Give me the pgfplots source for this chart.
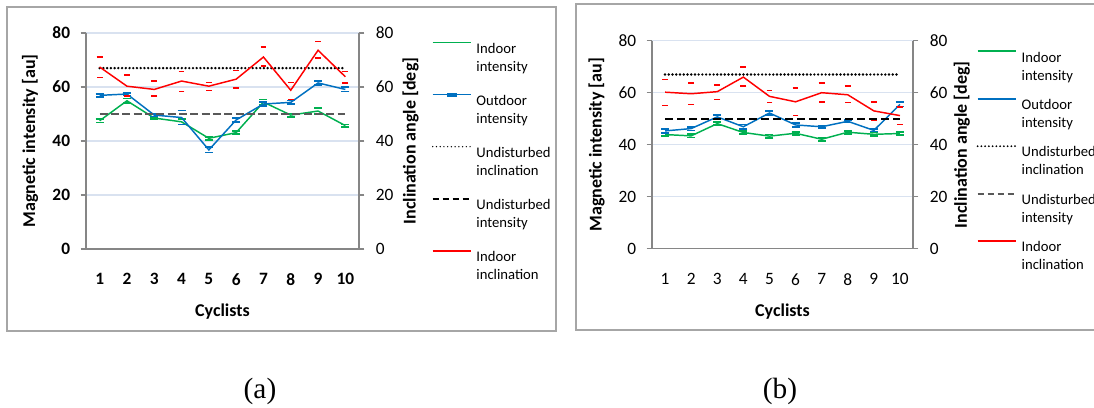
\documentclass[border=0pt]{standalone}
\usepackage{fontspec}
\setmainfont{Carlito}
\newfontfamily\timesfont{Liberation Serif}
\usepackage{pgfplots}
\usepackage{pgfplotstable}
\pgfplotsset{compat=1.18}
\definecolor{exgreen}{RGB}{0,176,80}
\definecolor{exblue}{RGB}{0,112,192}
\definecolor{exred}{RGB}{255,0,0}
\definecolor{gridc}{RGB}{217,226,240}
\definecolor{axc}{RGB}{134,134,134}
\definecolor{framec}{RGB}{166,166,166}
\definecolor{dashc}{RGB}{89,89,89}
\newcommand{\lgd}[2]{\vtop{\hbox{\strut #1}\hbox{\strut #2}}}
\newcommand{\lblfont}{\fontsize{13.5}{16}\selectfont\bfseries}

% panel (a)
\pgfplotstableread{
x y e
1 47.5 0.6
2 54.9 0.8
3 48.5 0.4
4 47.1 1.0
5 41.0 0.5
6 43.1 0.5
7 54.4 1.0
8 49.6 0.6
9 51.1 1.1
10 45.7 0.4
}\agreen
\pgfplotstableread{
x y e
1 56.9 0.5
2 57.4 0.5
3 49.6 0.5
4 48.7 2.6
5 36.7 1.0
6 47.8 0.7
7 53.7 0.7
8 54.3 0.7
9 61.5 0.7
10 59.1 0.8
}\ablue
\pgfplotstableread{
x y ep em
1 67.4 3.7 3.8
2 60.3 4.1 3.7
3 59.1 3.1 2.5
4 62.2 3.6 3.8
5 60.3 1.4 1.6
6 62.9 3.3 3.2
7 71.1 3.7 3.3
8 58.8 2.9 3.4
9 73.6 3.3 2.8
10 63.8 2.0 2.3
}\ared
% panel (b)
\pgfplotstableread{
x y e
1 43.9 0.6
2 43.4 0.6
3 48.1 0.6
4 44.7 0.6
5 43.3 0.6
6 44.4 0.6
7 42.1 0.6
8 44.8 0.6
9 44.0 0.7
10 44.3 0.6
}\bgreen
\pgfplotstableread{
x y e
1 45.3 0.7
2 46.2 0.7
3 50.7 0.7
4 46.9 0.9
5 52.2 0.7
6 47.6 0.8
7 46.9 0.5
8 49.0 0.5
9 45.5 0.4
10 55.5 0.8
}\bblue
\pgfplotstableread{
x y ep em
1 60.2 4.9 5.1
2 59.6 4.2 4.2
3 60.4 2.6 3.1
4 66.0 3.8 3.5
5 58.6 2.3 2.4
6 56.5 5.3 5.2
7 60.0 3.8 3.6
8 59.2 3.3 3.0
9 53.0 3.4 3.6
10 51.2 3.3 3.4
}\bred

\pgfplotsset{
  base/.style={scale only axis, clip=false,
    xmin=0.5, xmax=10.5, ymin=0, ymax=80,
    xtick={1,...,10}, ytick={0,20,...,80},
    axis line style={axc, line width=0.9pt},
    major tick length=4pt, tick align=outside,
    ytick style={axc, line width=0.9pt},
    xtick style={draw=none},
    /pgf/number format/assume math mode=true,
    xticklabel style={anchor=north, inner sep=0pt, yshift=-14.25pt},
  },
  leftax/.style={base, axis x line*=bottom, axis y line*=left,
    ymajorgrids, grid style={gridc, line width=0.9pt},
    yticklabel style={anchor=east, inner sep=0pt, xshift=-7.75pt},
  },
  rightax/.style={base, axis x line=none, axis y line*=right,
    yticklabel style={anchor=west, inner sep=0pt, xshift=8.5pt},
    ticklabel style={font=\fontsize{13}{15}\selectfont},
    legend cell align=left,
    legend image code/.code={\draw[line width=1.1pt,##1] (0pt,4pt) -- (28.5pt,4pt);},
  },
  thicklegend/.style={
    legend image code/.code={\draw[##1, line width=1.5pt] (0pt,4pt) -- (28.5pt,4pt);},
  },
  ebars/.style={error bars/.cd, y dir=both, y explicit, error mark=-,
    error bar style={draw opacity=0},
    error mark options={rotate=90, draw opacity=1, line width=1.1pt, mark size=2.2pt}},
  ebarsb/.style={error bars/.cd, y dir=both, y explicit, error mark=-,
    error bar style={draw opacity=0},
    error mark options={rotate=90, draw opacity=1, line width=1.3pt, mark size=3pt}},
  dotline/.style={black, line width=2pt, line cap=round, dash pattern=on 0pt off 2.8pt},
}

\begin{document}
\begin{tikzpicture}
\useasboundingbox (0,0) rectangle (820.5pt,305.25pt);
\draw[framec, line width=0.9pt] (5.25pt,57pt) rectangle (417pt,300pt);
\draw[framec, line width=0.9pt] (432pt,57.75pt) rectangle (830pt,302.25pt);
\node[font=\timesfont\fontsize{22}{26}\selectfont] at (195pt,12pt) {(a)};
\node[font=\timesfont\fontsize{22}{26}\selectfont] at (585pt,12pt) {(b)};

% ---------- panel (a)
\begin{axis}[leftax, at={(64.5pt,118.5pt)}, anchor=south west,
  width=204.75pt, height=162pt,
  ticklabel style={font=\fontsize{13}{15}\selectfont\bfseries},
  xlabel={Cyclists}, ylabel={Magnetic intensity [au]},
  every axis y label/.style={at={(axis description cs:-0.205,0.5)}, rotate=90, anchor=center, font=\lblfont},
  every axis x label/.style={at={(axis description cs:0.5,-0.290)}, anchor=center, font=\lblfont}]
\addplot[exgreen, line width=1.1pt, ebarsb] table[x=x, y=y, y error=e] {\agreen};
\addplot[exblue, line width=1.1pt, ebarsb] table[x=x, y=y, y error=e] {\ablue};
\addplot[dashc, line width=1.5pt, dash pattern=on 6pt off 2.5pt] coordinates {(1,50) (10,50)};
\end{axis}
\begin{axis}[rightax, at={(64.5pt,118.5pt)}, anchor=south west,
  width=204.75pt, height=162pt,
  ylabel={Inclination angle [deg]},
  every axis y label/.style={at={(axis description cs:1.189,0.5)}, rotate=90, anchor=center, font=\lblfont},
  legend style={at={(axis description cs:1.2674,0.9657)}, anchor=north west,
    draw=none, fill=none, inner sep=0pt, outer sep=0pt,
    row sep=28.15pt, column sep=3.75pt,
    font=\fontsize{11}{13.5}\selectfont, nodes={inner sep=0pt, outer sep=0pt}}]
\addlegendimage{exgreen}
\addlegendentry{\lgd{Indoor}{intensity}}
\addlegendimage{exblue, legend image code/.code={\draw[line width=1.1pt,exblue] (0pt,4pt) -- (28.5pt,4pt); \fill[exblue] (11pt,2.7pt) rectangle (17.5pt,5.3pt);}}
\addlegendentry{\lgd{Outdoor}{intensity}}
\addplot[dotline] coordinates {(1,67) (10,67)};
\addlegendentry{\lgd{Undisturbed}{inclination}}
\addlegendimage{black, line width=1.1pt, dash pattern=on 5pt off 2.5pt}
\addlegendentry{\lgd{Undisturbed}{intensity}}
\addplot[exred, line width=1.1pt, ebars] table[x=x, y=y, y error plus=ep, y error minus=em] {\ared};
\addlegendentry{\lgd{Indoor}{inclination}}
\end{axis}

% ---------- panel (b)
\begin{axis}[leftax, at={(489pt,118.725pt)}, anchor=south west,
  width=195.75pt, height=156pt,
  ticklabel style={font=\fontsize{13}{15}\selectfont},
  xlabel={Cyclists}, ylabel={Magnetic intensity [au]},
  every axis y label/.style={at={(axis description cs:-0.212,0.5)}, rotate=90, anchor=center, font=\lblfont},
  every axis x label/.style={at={(axis description cs:0.5,-0.303)}, anchor=center, font=\lblfont}]
\addplot[exgreen, line width=1.1pt, ebarsb] table[x=x, y=y, y error=e] {\bgreen};
\addplot[exblue, line width=1.1pt, ebarsb] table[x=x, y=y, y error=e] {\bblue};
\addplot[black, line width=1.2pt, dash pattern=on 6pt off 3pt] coordinates {(1,50) (10,50)};
\end{axis}
\begin{axis}[rightax, thicklegend, at={(489pt,118.725pt)}, anchor=south west,
  width=195.75pt, height=156pt,
  ylabel={Inclination angle [deg]},
  every axis y label/.style={at={(axis description cs:1.187,0.5)}, rotate=90, anchor=center, font=\lblfont},
  legend style={at={(axis description cs:1.244,0.958)}, anchor=north west,
    draw=none, fill=none, inner sep=0pt, outer sep=0pt,
    row sep=24.6pt, column sep=3.75pt,
    font=\fontsize{11}{13.5}\selectfont, nodes={inner sep=0pt, outer sep=0pt}}]
\addlegendimage{exgreen}
\addlegendentry{\lgd{Indoor}{intensity}}
\addlegendimage{exblue}
\addlegendentry{\lgd{Outdoor}{intensity}}
\addplot[dotline] coordinates {(1,67) (10,67)};
\addlegendentry{\lgd{Undisturbed}{inclination}}
\addlegendimage{dashc, dash pattern=on 5pt off 2.5pt}
\addlegendentry{\lgd{Undisturbed}{intensity}}
\addplot[exred, line width=1.1pt, ebars] table[x=x, y=y, y error plus=ep, y error minus=em] {\bred};
\addlegendentry{\lgd{Indoor}{inclination}}
\end{axis}
\end{tikzpicture}
\end{document}
